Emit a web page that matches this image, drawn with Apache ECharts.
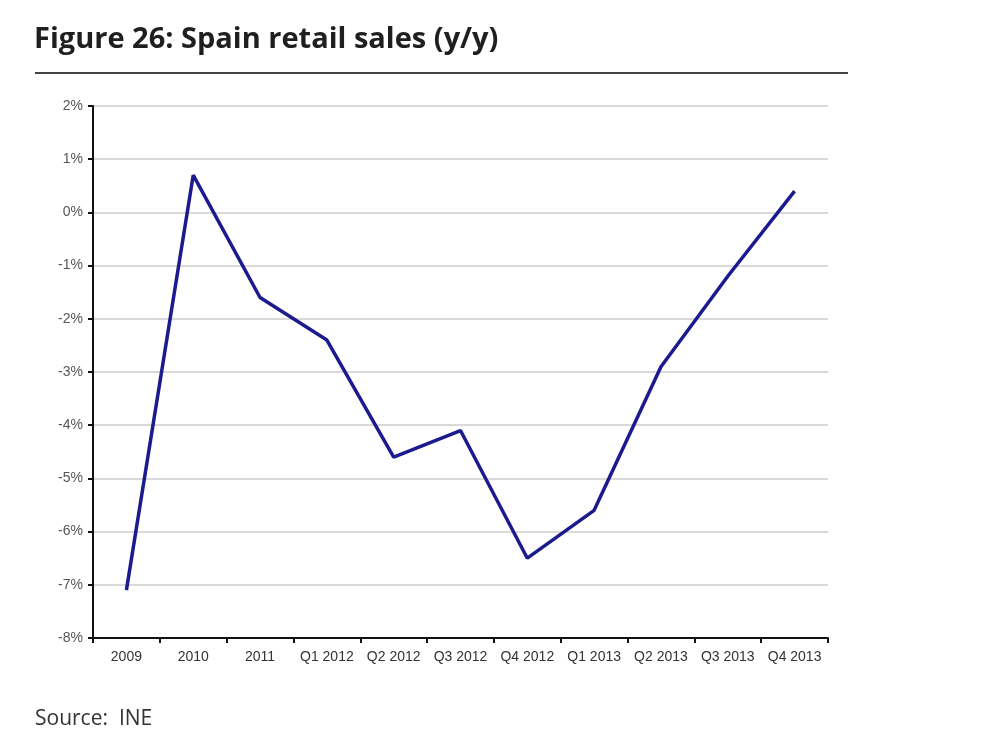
<!DOCTYPE html>
<html>
<head>
<meta charset="utf-8">
<script src="https://cdn.jsdelivr.net/npm/echarts@6/dist/echarts.min.js"></script>
<style>
html,body{margin:0;padding:0;background:#fff;}
#c{width:992px;height:744px;}
</style>
</head>
<body>
<div id="c"></div>
<script>
const categories = ['2009','2010','2011','Q1 2012','Q2 2012','Q3 2012','Q4 2012','Q1 2013','Q2 2013','Q3 2013','Q4 2013'];
const retailSales = [-7.1, 0.7, -1.6, -2.4, -4.6, -4.1, -6.5, -5.6, -2.9, -1.2, 0.4];
const yMin = -8, yMax = 2, yStep = 1;

const chart = echarts.init(document.getElementById('c'));
chart.setOption({
  animation: false,
  backgroundColor: '#fff',
  title: [{
    text: 'Figure 26: Spain retail sales (y/y)',
    left: 34, top: 25, padding: 0,
    textStyle: {fontFamily: 'Open Sans', fontWeight: 'bold', fontSize: 29, color: '#1f1f1f'}
  }, {
    text: 'Source:  INE',
    left: 35, top: 709, padding: 0,
    textStyle: {fontFamily: 'Open Sans', fontWeight: 'normal', fontSize: 21, color: '#333'}
  }],
  graphic: [{
    type: 'line',
    shape: {x1: 35, y1: 73, x2: 848, y2: 73},
    style: {stroke: '#444', lineWidth: 2}
  }],
  grid: {left: 93, right: 164, top: 106, bottom: 106},
  xAxis: {
    type: 'category',
    data: categories,
    boundaryGap: true,
    axisLine: {onZero: false, lineStyle: {color: '#111', width: 2}},
    axisTick: {show: true, length: 5, lineStyle: {color: '#111', width: 2}},
    axisLabel: {color: '#333', fontFamily: 'Liberation Sans Narrow, Arial Narrow, Liberation Sans', fontSize: 14, margin: 12, interval: 0},
    splitLine: {show: false}
  },
  yAxis: {
    type: 'value',
    min: yMin, max: yMax, interval: yStep,
    axisLine: {show: true, lineStyle: {color: '#111', width: 2}},
    axisTick: {show: true, length: 5, lineStyle: {color: '#111', width: 2}},
    axisLabel: {formatter: v => v + '%', color: '#555', fontFamily: 'Liberation Sans Narrow, Arial Narrow, Liberation Sans', fontSize: 14, margin: 10},
    splitLine: {lineStyle: {color: '#d9d9d9', width: 2}}
  },
  series: [{
    type: 'line',
    data: retailSales,
    symbol: 'none',
    lineStyle: {color: '#1b1b8f', width: 3.5},
    z: 5
  }]
});
</script>
</body>
</html>
